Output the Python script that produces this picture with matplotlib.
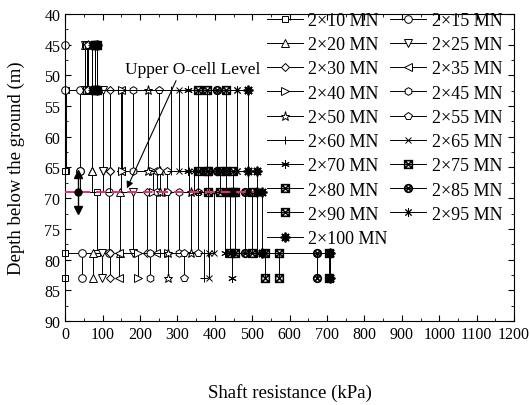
import matplotlib.pyplot as plt
import numpy as np

plt.rcParams['font.family'] = ['Liberation Serif', 'DejaVu Serif']
plt.rcParams['mathtext.fontset'] = 'stix'

# depth levels of the gauge sections (m)
depths = [45.0, 52.3, 65.6, 69.0, 79.0, 83.0]

loads = [10, 15, 20, 25, 30, 35, 40, 45, 50, 55, 60, 65, 70, 75, 80, 85, 90, 95, 100]
# shaft resistance of each section (kPa)
seg_a = [52, 0, 52, 52, 57, 57, 57, 61, 61, 61, 73, 73, 73, 80, 80, 80, 86, 86, 86]      # 45 - 52.3
seg_b = [3, 40, 72, 100, 121, 148, 152, 180, 221, 250, 283, 305, 329, 356, 380, 405, 430, 460, 490]  # 52.3 - 65.6
seg_c = [0, 40, 72, 100, 121, 148, 235, 245, 253, 272, 330, 345, 355, 381, 413, 430, 448, 490, 512]  # 65.6 - 69
seg_d = [86, 116, 146, 180, 218, 243, 274, 305, 335, 355, 383, 399, 426, 440, 453, 480, 500, 512, 525]  # 69 - 79
seg_e = [0, 45, 75, 99, 119, 143, 194, 226, 274, 318, 372, 385, 445, 535, 571, 674, 705, 709, 709]  # 79 - 83

markers = ['s', 'o', '^', 'v', 'D', '<', '>', 'h', '*', 'p', '+', 'x',
           (6, 2, 0), r'$\boxtimes$', r'$\boxtimes$', r'$\otimes$', r'$\boxtimes$',
           (8, 2, 0), (8, 2, 0)]
msizes = [5, 5.5, 5.5, 5.5, 4.5, 5.5, 5.5, 5.5, 6.5, 5.5, 6, 5, 6, 6, 6, 6, 6, 6, 7]

fig = plt.figure(figsize=(5.3, 4.06), dpi=100)
ax = fig.add_axes([0.123, 0.207, 0.847, 0.756])

handles = []
for i, ld in enumerate(loads):
    a, b, c, d, e = seg_a[i], seg_b[i], seg_c[i], seg_d[i], seg_e[i]
    xs = [a, a, b, b, c, c, d, d, e, e]
    ys = [depths[0], depths[1], depths[1], depths[2], depths[2], depths[3],
          depths[3], depths[4], depths[4], depths[5]]
    mk = [0, 1, 2, 3, 4, 6, 7, 8, 9] if c in (0, b) else list(range(10))
    last = i == len(loads) - 1
    h, = ax.plot(xs, ys, color='black', lw=0.7, marker=markers[i], ms=msizes[i],
                 mfc='black' if last else 'white', mec='black',
                 mew=1.3 if last else 0.7,
                 markevery=mk, clip_on=False, label='2×%d MN' % ld)
    handles.append(h)

# upper O-cell level
ax.plot([0, 505], [69, 69], color='#EC2A7E', lw=1.4, dashes=(5, 3), zorder=5)
ax.plot([35, 35], [66.0, 72.0], color='black', lw=1.0, zorder=6)
ax.plot([35], [66.0], marker='^', ms=6, color='black', zorder=6)
ax.plot([35], [72.0], marker='v', ms=6, color='black', zorder=6)
ax.plot([35], [69], marker='o', ms=5, color='black', zorder=6)
ax.annotate('Upper O-cell Level', xy=(165, 68.4), xytext=(341, 48.9),
            ha='center', va='center', fontsize=12.5,
            arrowprops=dict(arrowstyle='-|>', color='black', lw=0.8, relpos=(0.39, 0.0),
                            shrinkA=1, shrinkB=0, mutation_scale=10))

ax.set_xlim(0, 1200)
ax.set_ylim(90, 40)
ax.set_xticks(np.arange(0, 1201, 100))
ax.set_xticks(np.arange(0, 1201, 50), minor=True)
ax.set_yticks(np.arange(40, 91, 5))
ax.set_yticks(np.arange(40, 91, 2.5), minor=True)
ax.tick_params(which='both', direction='in', top=True, right=True, labelsize=11.5)
ax.tick_params(which='major', length=4)
ax.tick_params(which='minor', length=2)
ax.set_xlabel('Shaft resistance (kPa)', fontsize=13.5, labelpad=30)
ax.set_ylabel('Depth below the ground (m)', fontsize=13.5, labelpad=14)

order = [0, 2, 4, 6, 8, 10, 12, 14, 16, 18, 1, 3, 5, 7, 9, 11, 13, 15, 17]
ax.legend([handles[k] for k in order], [handles[k].get_label() for k in order],
          ncol=2, frameon=False, fontsize=13, loc='upper right',
          bbox_to_anchor=(0.99, 1.03), handlelength=2.0, handletextpad=0.3,
          columnspacing=0.15, labelspacing=0.4, borderaxespad=0.0)

fig.savefig('out.png', dpi=100)
